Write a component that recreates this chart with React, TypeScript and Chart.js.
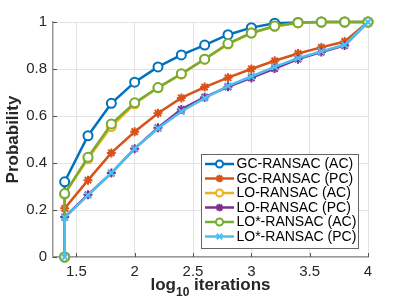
import React, { useEffect, useRef } from 'react';
import { Chart, registerables } from 'chart.js';

Chart.register(...registerables);

// ---- data ----
const xLog10 = [1.4, 1.4, 1.6, 1.8, 2.0, 2.2, 2.4, 2.6, 2.8, 3.0, 3.2, 3.4, 3.6, 3.8, 4.0];
const gcAC = [0, 0.32, 0.516, 0.654, 0.744, 0.809, 0.86, 0.902, 0.946, 0.976, 0.995, 0.998, 1, 1, 1];
const gcPC = [0, 0.207, 0.327, 0.443, 0.533, 0.612, 0.677, 0.723, 0.763, 0.8, 0.835, 0.866, 0.892, 0.917, 1];
const loAC = [0, 0.268, 0.418, 0.555, 0.652, 0.72, 0.778, 0.842, 0.906, 0.953, 0.981, 0.996, 1, 1, 1];
const loPC = [0, 0.17, 0.265, 0.357, 0.461, 0.55, 0.628, 0.68, 0.724, 0.762, 0.802, 0.842, 0.872, 0.9, 1];
const losAC = [0, 0.27, 0.425, 0.566, 0.656, 0.721, 0.78, 0.842, 0.908, 0.953, 0.983, 0.997, 1, 1, 1];
const losPC = [0, 0.168, 0.263, 0.358, 0.461, 0.547, 0.619, 0.676, 0.728, 0.768, 0.809, 0.846, 0.875, 0.903, 1];

const seriesNames = [
  'GC-RANSAC (AC)',
  'GC-RANSAC (PC)',
  'LO-RANSAC (AC)',
  'LO-RANSAC (PC)',
  'LO*-RANSAC (AC)',
  'LO*-RANSAC (PC)',
];
const seriesValues = [gcAC, gcPC, loAC, loPC, losAC, losPC];
const seriesColors = ['#0072BD', '#D95319', '#EDB120', '#7E2F8E', '#77AC30', '#4DBEEE'];
const seriesMarkers = ['circle', 'star', 'circle', 'star', 'circle', 'crossRot'];

const xTicks = [1.5, 2, 2.5, 3, 3.5, 4];
const xTickLabels = ['1.5', '2', '2.5', '3', '3.5', '4'];
const yTicks = [0, 0.2, 0.4, 0.6, 0.8, 1];
const yTickLabels = ['0', '0.2', '0.4', '0.6', '0.8', '1'];

const xTitleMain = 'log';
const xTitleSub = '10';
const xTitleRest = ' iterations';
const yTitle = 'Probability';

const FONT = '"Liberation Sans", Arial, Helvetica, sans-serif';
const TEXT = '#262626';

function drawMarker(ctx: CanvasRenderingContext2D, style: string, x: number, y: number, r: number, color: string) {
  ctx.save();
  ctx.strokeStyle = color;
  ctx.lineWidth = 2;
  ctx.beginPath();
  if (style === 'circle') {
    ctx.fillStyle = '#fff';
    ctx.arc(x, y, r, 0, Math.PI * 2);
    ctx.fill();
    ctx.stroke();
  } else {
    const d = r * Math.SQRT1_2;
    ctx.moveTo(x - d, y - d); ctx.lineTo(x + d, y + d);
    ctx.moveTo(x - d, y + d); ctx.lineTo(x + d, y - d);
    if (style === 'star') {
      ctx.moveTo(x - r, y); ctx.lineTo(x + r, y);
      ctx.moveTo(x, y - r); ctx.lineTo(x, y + r);
    }
    ctx.stroke();
  }
  ctx.restore();
}

const decorPlugin = {
  id: 'decor',
  afterDraw(chart: any) {
    const ctx: CanvasRenderingContext2D = chart.ctx;
    const { left, right, top, bottom } = chart.chartArea;
    const xs = chart.scales.x;
    const ys = chart.scales.y;

    // inward tick marks
    ctx.save();
    ctx.strokeStyle = '#555';
    ctx.lineWidth = 1;
    ctx.beginPath();
    xTicks.forEach((v) => {
      const px = Math.round(xs.getPixelForValue(v)) + 0.5;
      ctx.moveTo(px, bottom);
      ctx.lineTo(px, bottom - 4);
    });
    yTicks.forEach((v) => {
      const py = Math.round(ys.getPixelForValue(v)) + 0.5;
      ctx.moveTo(left, py);
      ctx.lineTo(left + 4, py);
    });
    ctx.stroke();
    ctx.restore();

    // y title
    ctx.save();
    ctx.fillStyle = TEXT;
    ctx.font = `bold 17px ${FONT}`;
    ctx.textAlign = 'center';
    ctx.textBaseline = 'middle';
    ctx.translate(13, (top + bottom) / 2);
    ctx.rotate(-Math.PI / 2);
    ctx.fillText(yTitle, 0, 0);
    ctx.restore();

    // x title with subscript
    ctx.save();
    ctx.fillStyle = TEXT;
    ctx.textBaseline = 'alphabetic';
    ctx.textAlign = 'left';
    const mainFont = `bold 17px ${FONT}`;
    const subFont = `bold 12px ${FONT}`;
    ctx.font = mainFont;
    const w1 = ctx.measureText(xTitleMain).width;
    const w3 = ctx.measureText(xTitleRest).width;
    ctx.font = subFont;
    const w2 = ctx.measureText(xTitleSub).width;
    const total = w1 + w2 + w3;
    let cx = (left + right) / 2 - total / 2;
    const base = 290;
    ctx.font = mainFont;
    ctx.fillText(xTitleMain, cx, base);
    cx += w1;
    ctx.font = subFont;
    ctx.fillText(xTitleSub, cx, base + 6);
    cx += w2;
    ctx.font = mainFont;
    ctx.fillText(xTitleRest, cx, base);
    ctx.restore();

    // legend
    const bx = 201.5, by = 154.5, bw = 157, bh = 94;
    ctx.save();
    ctx.fillStyle = '#fff';
    ctx.fillRect(bx, by, bw, bh);
    ctx.strokeStyle = '#666';
    ctx.lineWidth = 1;
    ctx.strokeRect(bx, by, bw, bh);
    ctx.font = `14px ${FONT}`;
    ctx.textBaseline = 'middle';
    ctx.textAlign = 'left';
    seriesNames.forEach((name, i) => {
      const ry = 164 + i * 14.5;
      ctx.strokeStyle = seriesColors[i];
      ctx.lineWidth = 2.5;
      ctx.beginPath();
      ctx.moveTo(205, ry);
      ctx.lineTo(234, ry);
      ctx.stroke();
      drawMarker(ctx, seriesMarkers[i], 219.5, ry, seriesMarkers[i] === 'circle' ? 3.5 : 3.8, seriesColors[i]);
      ctx.fillStyle = '#000';
      ctx.fillText(name, 236.5, ry + 0.5);
    });
    ctx.restore();
  },
};

export default function App() {
  const canvasRef = useRef<HTMLCanvasElement | null>(null);

  useEffect(() => {
    document.body.style.margin = '0';
    const canvas = canvasRef.current;
    if (!canvas) return;

    const datasets = seriesNames.map((name, i) => ({
      label: name,
      data: xLog10.map((x, j) => ({ x, y: seriesValues[i][j] })),
      borderColor: seriesColors[i],
      backgroundColor: seriesColors[i],
      borderWidth: 2.5,
      pointStyle: seriesMarkers[i],
      pointRadius: seriesMarkers[i] === 'circle' ? 4.5 : 4.5,
      pointBorderWidth: 2,
      pointBorderColor: seriesColors[i],
      pointBackgroundColor: seriesMarkers[i] === 'circle' ? '#fff' : seriesColors[i],
      tension: 0,
      fill: false,
      clip: false as any,
      order: seriesNames.length - i,
    }));

    const chart = new Chart(canvas, {
      type: 'line',
      data: { datasets },
      plugins: [decorPlugin],
      options: {
        animation: false,
        responsive: true,
        maintainAspectRatio: false,
        devicePixelRatio: 1,
        layout: { padding: { top: 22, right: 39, left: 0, bottom: 0 } },
        plugins: {
          legend: { display: false },
          tooltip: { enabled: false },
          title: { display: false },
        },
        scales: {
          x: {
            type: 'linear',
            min: 1.3,
            max: 4,
            afterBuildTicks: (s: any) => {
              s.ticks = xTicks.map((v) => ({ value: v }));
            },
            afterFit: (s: any) => {
              s.height = 48;
            },
            ticks: {
              autoSkip: false,
              maxRotation: 0,
              padding: 6,
              color: TEXT,
              font: { family: FONT, size: 15 },
              callback: (v: any) => xTickLabels[xTicks.indexOf(Number(v))] ?? String(v),
            },
            grid: { color: '#e3e3e3', drawTicks: false, lineWidth: 1 },
            border: { display: true, color: '#999', width: 1.5 },
          },
          y: {
            type: 'linear',
            min: 0,
            max: 1,
            afterBuildTicks: (s: any) => {
              s.ticks = yTicks.map((v) => ({ value: v }));
            },
            afterFit: (s: any) => {
              s.width = 53;
            },
            ticks: {
              padding: 6,
              color: TEXT,
              font: { family: FONT, size: 15 },
              callback: (v: any) => {
                const idx = yTicks.findIndex((t) => Math.abs(t - Number(v)) < 1e-9);
                return idx >= 0 ? yTickLabels[idx] : String(v);
              },
            },
            grid: { color: '#e3e3e3', drawTicks: false, lineWidth: 1 },
            border: { display: true, color: '#999', width: 1.5 },
          },
        },
      } as any,
    });

    return () => chart.destroy();
  }, []);

  return (
    <div style={{ position: 'fixed', left: 0, top: 0, width: 407, height: 305 }}>
      <canvas ref={canvasRef} />
    </div>
  );
}
